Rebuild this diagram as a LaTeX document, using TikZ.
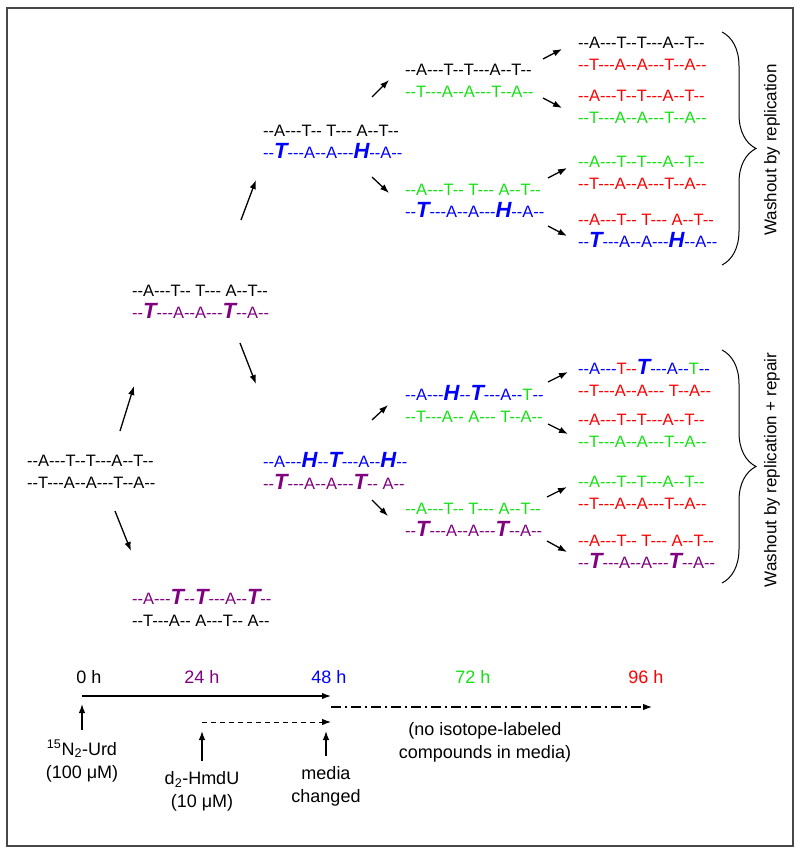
\documentclass[tikz,border=0pt]{standalone}
\usepackage{fontspec}
\usepackage{tikz}
\usetikzlibrary{arrows.meta,decorations.pathreplacing}
\newfontfamily\seqfont{Liberation Sans}
\definecolor{dnapurple}{RGB}{128,0,128}
\definecolor{dnablue}{RGB}{0,0,255}
\definecolor{dnagreen}{RGB}{20,225,20}
\definecolor{dnared}{RGB}{255,0,0}
\tikzstyle{seq}=[anchor=west,align=left,inner sep=0pt,font={\seqfont\fontsize{16.5}{21.5}\selectfont}]
\tikzstyle{arr}=[-{Latex[length=9pt,width=6.5pt]},line width=1.3pt]
\tikzstyle{tl}=[inner sep=0pt,align=center,font={\seqfont\fontsize{18}{23}\selectfont}]
\tikzstyle{brace}=[decorate,decoration={brace,amplitude=34pt},line width=1pt]
\newcommand{\bigbase}[1]{{\fontsize{22}{22}\selectfont\bfseries\itshape #1}}

\begin{document}
\begin{tikzpicture}[x=1pt,y=-1pt]
	\useasboundingbox (0,0) rectangle (800,854);
	\draw[line width=1.6pt,black!72] (7,8) rectangle (793,846);
	% strands, 0 h to 96 h
	\node[seq] (root) at (27,472) {--A---T--T---A--T--\\--T---A--A---T--A--};
	\node[seq] (up24) at (132,302) {--A---T-- T--- A--T--\\
	  \textcolor{dnapurple}{--\bigbase{T}---A--A---\bigbase{T}--A--}};
	\node[seq] (lo24) at (132,608) {\textcolor{dnapurple}{--A---\bigbase{T}--\bigbase{T}---A--\bigbase{T}--}\\
	  --T---A-- A---T-- A--};
	\node[seq] (top48) at (263,142) {--A---T-- T--- A--T--\\
	  \textcolor{dnablue}{--\bigbase{T}---A--A---\bigbase{H}--A--}};
	\node[seq] (bot48) at (263,471) {\textcolor{dnablue}{--A---\bigbase{H}--\bigbase{T}---A--\bigbase{H}--}\\
	  \textcolor{dnapurple}{--\bigbase{T}---A--A---\bigbase{T}-- A--}};
	\node[seq] (a72) at (405,81) {--A---T--T---A--T--\\\textcolor{dnagreen}{--T---A--A---T--A--}};
	\node[seq] (b72) at (405,201) {\textcolor{dnagreen}{--A---T-- T--- A--T--}\\
	  \textcolor{dnablue}{--\bigbase{T}---A--A---\bigbase{H}--A--}};
	\node[seq] (c72) at (405,404) {\textcolor{dnablue}{--A---\bigbase{H}--\bigbase{T}---A--}\textcolor{dnagreen}{T}\textcolor{dnablue}{--}\\
	  \textcolor{dnagreen}{--T---A-- A--- T--A--}};
	\node[seq] (d72) at (405,520) {\textcolor{dnagreen}{--A---T-- T--- A--T--}\\
	  \textcolor{dnapurple}{--\bigbase{T}---A--A---\bigbase{T}--A--}};
	\node[seq] (a96) at (578,54) {--A---T--T---A--T--\\\textcolor{dnared}{--T---A--A---T--A--}};
	\node[seq] (b96) at (578,107) {\textcolor{dnared}{--A---T--T---A--T--}\\\textcolor{dnagreen}{--T---A--A---T--A--}};
	\node[seq] (c96) at (578,173) {\textcolor{dnagreen}{--A---T--T---A--T--}\\\textcolor{dnared}{--T---A--A---T--A--}};
	\node[seq] (d96) at (578,231) {\textcolor{dnared}{--A---T-- T--- A--T--}\\
	  \textcolor{dnablue}{--\bigbase{T}---A--A---\bigbase{H}--A--}};
	\node[seq] (e96) at (578,378) {\textcolor{dnablue}{--A---}\textcolor{dnared}{T--}\textcolor{dnablue}{\bigbase{T}---A--}\textcolor{dnagreen}{T}\textcolor{dnablue}{--}\\
	  \textcolor{dnared}{--T---A--A--- T--A--}};
	\node[seq] (f96) at (578,431) {\textcolor{dnared}{--A---T--T---A--T--}\\\textcolor{dnagreen}{--T---A--A---T--A--}};
	\node[seq] (g96) at (578,493) {\textcolor{dnagreen}{--A---T--T---A--T--}\\\textcolor{dnared}{--T---A--A---T--A--}};
	\node[seq] (h96) at (578,552) {\textcolor{dnared}{--A---T-- T--- A--T--}\\
	  \textcolor{dnapurple}{--\bigbase{T}---A--A---\bigbase{T}--A--}};
	% replication arrows
	\draw[arr] ([shift={(93,-41)}]root.west) -- ([shift={(2,84)}]up24.west);
	\draw[arr] ([shift={(88,39)}]root.west) -- ([shift={(-1,-57)}]lo24.west);
	\draw[arr] ([shift={(109,-82)}]up24.west) -- ([shift={(-7,38)}]top48.west);
	\draw[arr] ([shift={(108,41)}]up24.west) -- ([shift={(-7,-87)}]bot48.west);
	\draw[arr] ([shift={(109,-45)}]top48.west) -- ([shift={(-16,-1)}]a72.west);
	\draw[arr] ([shift={(109,35)}]top48.west) -- ([shift={(-16,-8)}]b72.west);
	\draw[arr] ([shift={(109,-51)}]bot48.west) -- ([shift={(-17,1)}]c72.west);
	\draw[arr] ([shift={(109,29)}]bot48.west) -- ([shift={(-17,-4)}]d72.west);
	\draw[arr] ([shift={(138,-22)}]a72.west) -- ([shift={(-16,-5)}]a96.west);
	\draw[arr] ([shift={(138,17)}]a72.west) -- ([shift={(-16,1)}]b96.west);
	\draw[arr] ([shift={(143,-23)}]b72.west) -- ([shift={(-11,-5)}]c96.west);
	\draw[arr] ([shift={(143,25)}]b72.west) -- ([shift={(-11,5)}]d96.west);
	\draw[arr] ([shift={(143,-22)}]c72.west) -- ([shift={(-10,-6)}]e96.west);
	\draw[arr] ([shift={(143,20)}]c72.west) -- ([shift={(-10,3)}]f96.west);
	\draw[arr] ([shift={(142,-23)}]d72.west) -- ([shift={(-11,-6)}]g96.west);
	\draw[arr] ([shift={(142,21)}]d72.west) -- ([shift={(-11,0)}]h96.west);
	% braces
	\draw[brace] (722,32) -- (722,265);
	\draw[brace] (722,350) -- (722,583);
	\node[tl,rotate=90,font={\seqfont\fontsize{17}{20}\selectfont}] (wrep) at (772,150) {Washout by replication};
	\node[tl,rotate=90,font={\seqfont\fontsize{17}{20}\selectfont}] (wrepair) at (772,470) {Washout by replication + repair};
	% time line
	\node[tl] (t0) at (89,677) {0 h};
	\node[tl,text=dnapurple] (t24) at (202,677) {24 h};
	\node[tl,text=dnablue] (t48) at (329,677) {48 h};
	\node[tl,text=dnagreen] (t72) at (473,677) {72 h};
	\node[tl,text=dnared] (t96) at (646,677) {96 h};
	\coordinate (p0) at (82,696);
	\coordinate (p48) at (331,696);
	\coordinate (q48) at (331,707);
	\coordinate (q96) at (652,707);
	\coordinate (r24) at (202,722);
	\coordinate (r48) at (331,722);
	\draw[arr] (p0) -- (p48);
	\draw[arr,line width=1.1pt,dash pattern=on 10pt off 4pt on 2pt off 4pt] (q48) -- (q96);
	\draw[arr,line width=1pt,dash pattern=on 5pt off 4pt] (r24) -- (r48);
	\node[tl] (urd) at (82,761) {\textsuperscript{15}N\textsubscript{2}-Urd\\(100 μM)};
	\node[tl] (hmdu) at (202,791) {d\textsubscript{2}-HmdU\\(10 μM)};
	\node[tl] (media) at (326,786) {media\\changed};
	\node[tl] (nolab) at (485,742) {(no isotope-labeled\\compounds in media)};
	\draw[arr] ([yshift=10pt]urd.north) -- (urd.north |- 0,704);
	\draw[arr] ([yshift=10pt]hmdu.north) -- (hmdu.north |- 0,731);
	\draw[arr] ([yshift=10pt]media.north) -- (media.north |- 0,731);
\end{tikzpicture}
\end{document}
